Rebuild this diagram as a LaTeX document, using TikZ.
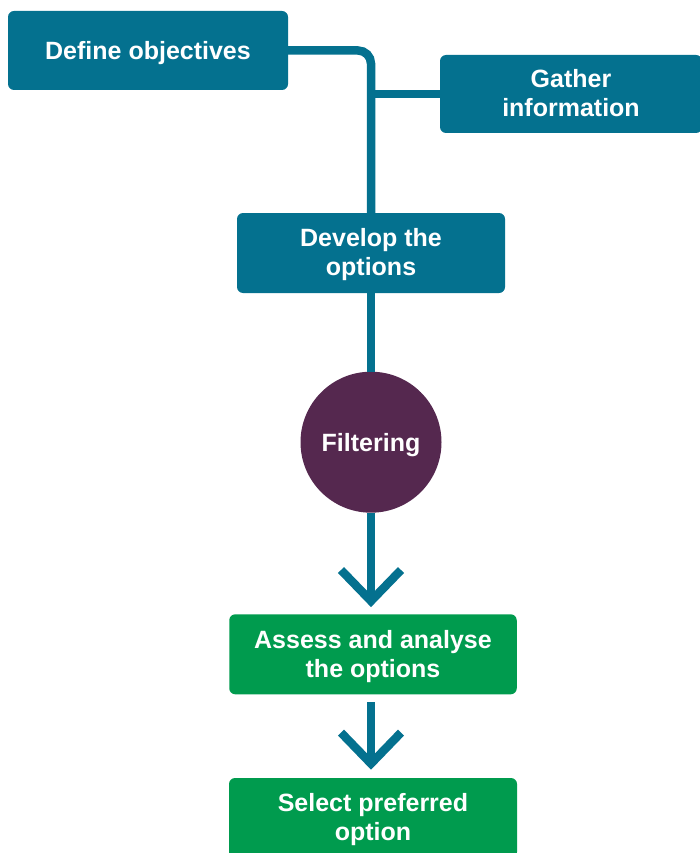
\documentclass[tikz,border=0pt]{standalone}
\usepackage{fontspec}
\setmainfont{Liberation Sans}
\usetikzlibrary{calc}
\definecolor{teal1}{HTML}{04718F}
\definecolor{plum1}{HTML}{55284F}
\definecolor{green1}{HTML}{009B4E}
\newcommand\dnlines[2]{\raisebox{-#1}[\height][\depth]{\begin{tabular}{@{}c@{}}#2\end{tabular}}}
\begin{document}
\begin{tikzpicture}[x=1pt,y=-1pt,
  box/.style={rectangle,rounded corners=6pt,inner sep=0pt,align=center,text=white,
    font=\fontsize{25}{29}\selectfont\bfseries},
  tbox/.style={box,fill=teal1},
  gbox/.style={box,fill=green1},
  conn/.style={draw=teal1,line width=8.5pt},
  chev/.style={draw=teal1,line width=8.5pt,line join=miter}]
\useasboundingbox (0,0) rectangle (699,853);
\node[tbox,minimum width=280pt,minimum height=79pt,text height=18pt,text depth=0pt] (def) at (148,50.5) {Define objectives};
\node[tbox,minimum width=262pt,minimum height=78pt] (gat) at (571,94) {\dnlines{2.5pt}{Gather\\information}};
\node[tbox,minimum width=268pt,minimum height=80pt] (dev) at (371,253) {\dnlines{2.5pt}{Develop the\\options}};
\node[circle,fill=plum1,minimum size=141pt,inner sep=0pt,text=white,text height=18pt,text depth=0pt,
  font=\fontsize{25}{29}\selectfont\bfseries] (fil) at (371,442.2) {Filtering};
\node[gbox,minimum width=287.5pt,minimum height=80pt] (ass) at (373,654.3) {\dnlines{2.5pt}{Assess and analyse\\the options}};
\node[gbox,minimum width=288pt,minimum height=80pt] (sel) at (373,818) {\dnlines{2.5pt}{Select preferred\\option}};
% connectors
\draw[conn,rounded corners=13pt] (def.east) -| (dev.north);
\draw[conn] (gat.west) -- (gat.west -| dev.north);
\draw[conn] (dev.south) -- (fil.north);
\coordinate (t1) at (371,601);
\draw[conn] (fil.south) -- (t1);
\draw[chev] ($(t1)+(-30,-31)$) -- (t1) -- ($(t1)+(30,-31)$);
\coordinate (s2) at (371,702);
\coordinate (t2) at (371,763.6);
\draw[conn] (s2) -- (t2);
\draw[chev] ($(t2)+(-30,-31)$) -- (t2) -- ($(t2)+(30,-31)$);
\end{tikzpicture}
\end{document}
